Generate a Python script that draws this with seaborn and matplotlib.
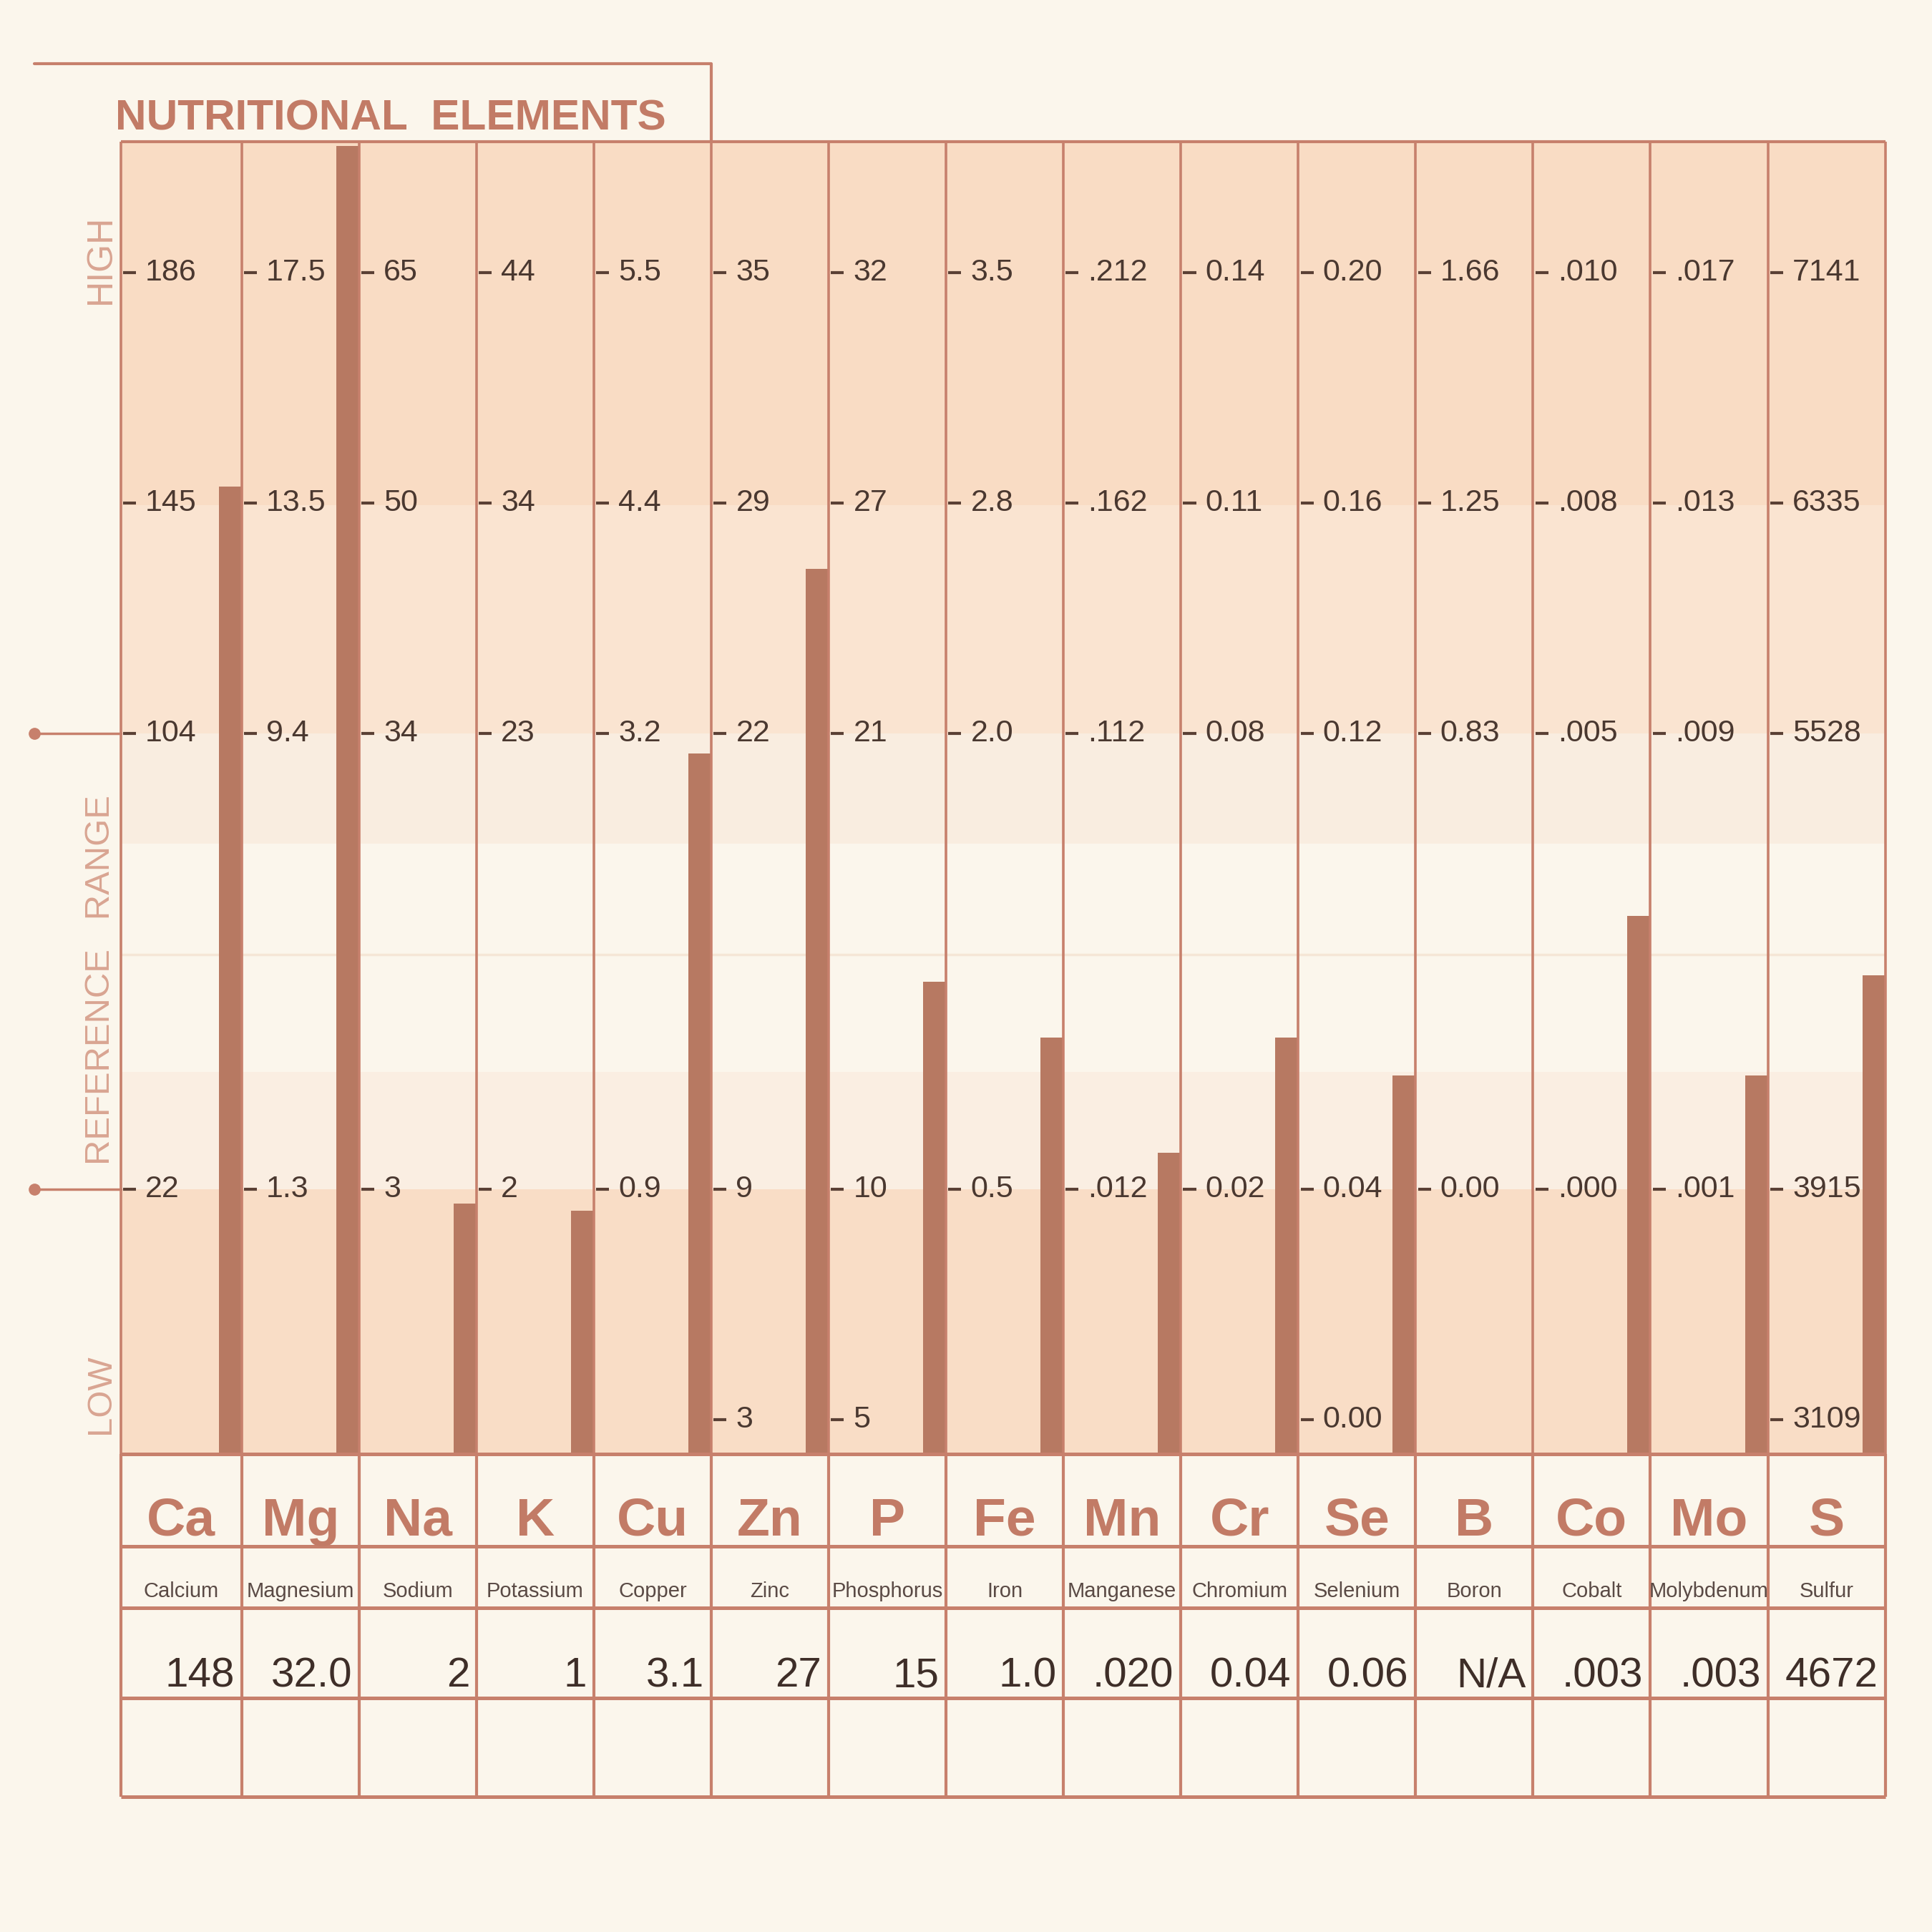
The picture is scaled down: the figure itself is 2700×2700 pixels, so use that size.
import numpy as np
import pandas as pd
import matplotlib
matplotlib.use("Agg")
import matplotlib.pyplot as plt
from matplotlib import font_manager
import seaborn as sns

# ---- data -------------------------------------------------------------
symbols = ["Ca", "Mg", "Na", "K", "Cu", "Zn", "P", "Fe", "Mn", "Cr",
           "Se", "B", "Co", "Mo", "S"]
names = ["Calcium", "Magnesium", "Sodium", "Potassium", "Copper", "Zinc",
         "Phosphorus", "Iron", "Manganese", "Chromium", "Selenium", "Boron",
         "Cobalt", "Molybdenum", "Sulfur"]
results = ["148", "32.0", "2", "1", "3.1", "27", "15", "1.0", ".020", "0.04",
           "0.06", "N/A", ".003", ".003", "4672"]

# reference range tick labels per element, from top (HIGH) to bottom (LOW)
lv_high = ["186", "17.5", "65", "44", "5.5", "35", "32", "3.5", ".212", "0.14",
           "0.20", "1.66", ".010", ".017", "7141"]
lv_upper = ["145", "13.5", "50", "34", "4.4", "29", "27", "2.8", ".162", "0.11",
            "0.16", "1.25", ".008", ".013", "6335"]
lv_mid = ["104", "9.4", "34", "23", "3.2", "22", "21", "2.0", ".112", "0.08",
          "0.12", "0.83", ".005", ".009", "5528"]
lv_lower = ["22", "1.3", "3", "2", "0.9", "9", "10", "0.5", ".012", "0.02",
            "0.04", "0.00", ".000", ".001", "3915"]
lv_low = ["", "", "", "", "", "3", "5", "", "", "", "0.00", "", "", "", "3109"]

# ---- style ------------------------------------------------------------
BG = "#fbf6ec"
LINE = "#c7806c"
BAR = "#b77962"
TXT = "#4a3830"
ACCENT = "#c27b66"
SOFT = "#d9a592"

sns.set_style("white")
plt.rcParams["font.family"] = ["Liberation Sans", "DejaVu Sans"]

try:
    font_manager.findfont(font_manager.FontProperties(family="Liberation Sans Narrow"),
                          fallback_to_default=False)
    NARROW, NS = "Liberation Sans Narrow", 1.0
except Exception:
    NARROW, NS = "Liberation Sans", 0.82

# vertical layout of the range rows (in chart units, bottom = 0)
level_rows = [lv_low, lv_lower, lv_mid, lv_upper, lv_high]
ROW_POS = [0.15, 1.15, 3.13, 4.13, 5.13]
TOP = 5.70
N = len(symbols)
X0 = -0.03   # first column is a little wider


def to_num(s):
    try:
        return float(s)
    except ValueError:
        return np.nan


def scale_position(col, value):
    """Place a result on the piecewise reference scale of one element."""
    if np.isnan(value):
        return np.nan
    xs = np.array([to_num(r[col]) for r in level_rows if r[col] != ""])
    ps = np.array([p for r, p in zip(level_rows, ROW_POS) if r[col] != ""])
    if value <= xs[0]:
        seg = 0
    elif value >= xs[-1]:
        seg = len(xs) - 2
    else:
        seg = int(np.searchsorted(xs, value)) - 1
    pos = ps[seg] + (value - xs[seg]) / (xs[seg + 1] - xs[seg]) * (ps[seg + 1] - ps[seg])
    return float(np.clip(pos, 0, TOP - 0.02))


heights = [scale_position(i, to_num(v)) for i, v in enumerate(results)]
df = pd.DataFrame({"x": np.arange(N) + 1 - 0.1, "h": heights}).dropna()

# ---- figure -----------------------------------------------------------
W = 1568.0
fig = plt.figure(figsize=(27, 27), dpi=100, facecolor=BG)
ax = fig.add_axes([98 / W, 1 - 1180 / W, 1432 / W, 1065 / W])
tab = fig.add_axes([98 / W, 1 - 1458 / W, 1432 / W, 278 / W])

# background bands
bands = [(0, 1.15, "#f9ddc6"), (1.15, 1.66, "#faeee2"), (1.66, 2.65, "#fbf6ec"),
         (2.65, 3.13, "#f9ede0"), (3.13, 4.12, "#fae4d1"), (4.12, TOP, "#f9dcc4")]
for y0, y1, c in bands:
    ax.axhspan(y0, y1, color=c, lw=0, zorder=0)
ax.axhline(2.17, color="#f5e6d6", lw=2.5, zorder=0.5)

sns.barplot(data=df, x="x", y="h", native_scale=True, width=0.19, color=BAR,
            saturation=1, errorbar=None, linewidth=0, ax=ax, zorder=2)

# column borders
edges = np.r_[X0, np.arange(1, N + 1)]
ax.vlines(edges, 0, TOP, colors=LINE, lw=2.6, zorder=3, clip_on=False)
ax.hlines([TOP], X0, N, colors=LINE, lw=3, zorder=3, clip_on=False)

# range tick marks and labels
for i in range(N):
    left = edges[i]
    for r, p in zip(level_rows, ROW_POS):
        if r[i] == "":
            continue
        ax.hlines(p, left + 0.02, left + 0.13, colors="#5a4035", lw=3, zorder=4)
        ax.text(left + 0.21, p, r[i], ha="left", va="center", fontsize=31,
                color=TXT, zorder=4)

ax.set_xlim(X0, N)
ax.set_ylim(0, TOP)
ax.set_axis_off()

# reference range markers on the left
xl = X0 - 0.733
for p in (ROW_POS[1], ROW_POS[2]):
    ax.plot([xl, X0], [p, p], color=LINE, lw=2.5, clip_on=False)
    ax.plot([xl], [p], "o", color=LINE, ms=11, clip_on=False)

ax.text(X0 - 0.17, 5.19, "HIGH", rotation=90, ha="center", va="center",
        fontsize=44 * NS, family=NARROW, color=SOFT)
ax.text(X0 - 0.17, 2.06, "REFERENCE   RANGE", rotation=90, ha="center", va="center",
        fontsize=43 * NS, family=NARROW, color=SOFT)
ax.text(X0 - 0.17, 0.26, "LOW", rotation=90, ha="center", va="center",
        fontsize=43 * NS, family=NARROW, color=SOFT)

# title frame
ax.plot([xl, 5, 5], [6.04, 6.04, TOP], color=LINE, lw=3, clip_on=False)
ax.text(X0 - 0.05, 5.75, "NUTRITIONAL  ELEMENTS", ha="left", va="baseline",
        fontsize=53 * NS, fontweight="bold", family=NARROW, color=ACCENT)

# ---- table below ------------------------------------------------------
tab.set_xlim(X0, N)
tab.set_ylim(278, 0)
tab.set_axis_off()
tab.hlines([0, 75, 125, 198, 278], X0, N, colors=LINE, lw=3.6, clip_on=False)
tab.vlines(edges, 0, 278, colors=LINE, lw=3, clip_on=False)

centers = (edges[:-1] + edges[1:]) / 2
for i in range(N):
    tab.text(centers[i], 66, symbols[i], ha="center", va="baseline",
             fontsize=66 * NS, fontweight="bold", family=NARROW, color=ACCENT)
    tab.text(centers[i], 116, names[i], ha="center", va="baseline",
             fontsize=21, color="#5a4a45")
    tab.text(i + 0.94, 189, results[i], ha="right", va="baseline",
             fontsize=42, color="#3e2e28")

fig.savefig("out.png", dpi=100, facecolor=BG)
